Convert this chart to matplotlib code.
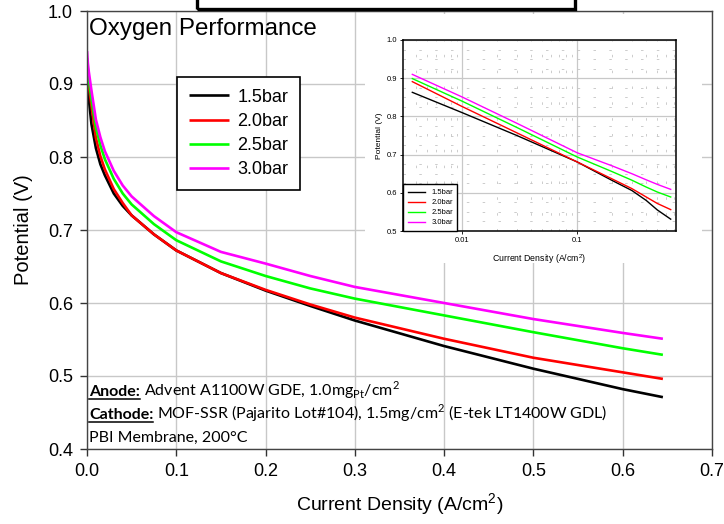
import matplotlib
matplotlib.use("Agg")
import matplotlib.pyplot as plt
from matplotlib.patches import Rectangle
from matplotlib.lines import Line2D

# ---------------- data ----------------
labels = ["1.5bar", "2.0bar", "2.5bar", "3.0bar"]
colors = ["#000000", "#FF0000", "#00FF00", "#FF00FF"]

# main plot (current density A/cm2 vs potential V)
main_x = [0.0, 0.001, 0.002, 0.005, 0.01, 0.015, 0.02, 0.03, 0.04, 0.05, 0.075, 0.1, 0.15,
          0.2, 0.25, 0.3, 0.4, 0.5, 0.6, 0.645]
main_v = {
    "1.5bar": [0.925, 0.900, 0.880, 0.845, 0.812, 0.790, 0.775, 0.750, 0.733, 0.720, 0.694,
               0.672, 0.641, 0.617, 0.596, 0.576, 0.541, 0.510, 0.482, 0.471],
    "2.0bar": [0.930, 0.910, 0.898, 0.870, 0.826, 0.801, 0.783, 0.756, 0.737, 0.720, 0.694,
               0.672, 0.641, 0.618, 0.598, 0.580, 0.551, 0.525, 0.505, 0.496],
    "2.5bar": [0.935, 0.918, 0.906, 0.879, 0.840, 0.816, 0.797, 0.770, 0.750, 0.735, 0.708,
               0.686, 0.657, 0.637, 0.620, 0.606, 0.583, 0.560, 0.538, 0.529],
    "3.0bar": [0.945, 0.928, 0.917, 0.891, 0.851, 0.827, 0.808, 0.781, 0.761, 0.746, 0.719,
               0.697, 0.670, 0.654, 0.637, 0.622, 0.600, 0.578, 0.559, 0.551],
}

# inset (log current density)
inset_x = [0.0037, 0.01, 0.03, 0.1, 0.2, 0.3, 0.4, 0.5, 0.653]
inset_v = {
    "1.5bar": [0.863, 0.810, 0.750, 0.681, 0.633, 0.606, 0.580, 0.555, 0.531],
    "2.0bar": [0.891, 0.826, 0.757, 0.681, 0.637, 0.611, 0.589, 0.572, 0.556],
    "2.5bar": [0.899, 0.840, 0.771, 0.694, 0.656, 0.633, 0.615, 0.602, 0.589],
    "3.0bar": [0.910, 0.851, 0.782, 0.705, 0.671, 0.650, 0.634, 0.622, 0.609],
}

main_xticks = [0.0, 0.1, 0.2, 0.3, 0.4, 0.5, 0.6, 0.7]
main_yticks = [0.4, 0.5, 0.6, 0.7, 0.8, 0.9, 1.0]
inset_yticks = [0.5, 0.6, 0.7, 0.8, 0.9, 1.0]

# ---------------- figure ----------------
W, H = 724, 524
plt.rcParams["font.family"] = ["Liberation Sans", "DejaVu Sans"]
fig = plt.figure(figsize=(W / 100, H / 100), dpi=100)

def fx(px):
    return px / W

def fy(py):
    return 1 - py / H

ax = fig.add_axes([fx(87), fy(449), fx(712) - fx(87), fy(11) - fy(449)])
for lab, c in zip(labels, colors):
    ax.plot(main_x, main_v[lab], color=c, lw=1.9, label=lab, solid_capstyle="butt")
ax.set_xlim(0, 0.7)
ax.set_ylim(0.4, 1.0)
ax.set_xticks(main_xticks)
ax.set_yticks(main_yticks)
ax.set_xticklabels([f"{t:.1f}" for t in main_xticks])
ax.set_yticklabels([f"{t:.1f}" for t in main_yticks])
ax.tick_params(direction="out", length=5, width=1, labelsize=13, colors="#333333",
               labelcolor="black", pad=5)
ax.grid(True, color="#C8C8C8", lw=1)
ax.set_axisbelow(True)
for s in ax.spines.values():
    s.set_color("#444444")
    s.set_linewidth(1)
ax.set_xlabel("Current Density (A/cm$^\\mathregular{2}$)", fontsize=14, labelpad=8)
ax.set_ylabel("Potential (V)", fontsize=14.5, labelpad=11)
ax.text(0.003, 0.985, "Oxygen Performance", transform=ax.transAxes, fontsize=17.4,
        va="top", ha="left")

leg = fig.legend(*ax.get_legend_handles_labels(), loc="upper left",
                 bbox_to_anchor=(fx(177), fy(77)), bbox_transform=fig.transFigure,
                 borderaxespad=0, fontsize=13, handlelength=2.25, handletextpad=0.45,
                 labelspacing=0.4, fancybox=False, framealpha=1, edgecolor="black",
                 borderpad=0.65)
leg.get_frame().set_linewidth(1.2)

# title box (cut off at top)
fig.patches.append(Rectangle((fx(197), fy(9)), fx(575) - fx(197), 0.2,
                             transform=fig.transFigure, fill=False, ec="black", lw=2.4))

# inset white background
ax.add_patch(Rectangle((fx(365), fy(263)), fx(702) - fx(365), fy(14) - fy(263),
                       transform=fig.transFigure, fc="white", ec="none", zorder=10,
                       clip_on=False))

# ---------------- inset ----------------
ins = fig.add_axes([fx(403), fy(231), fx(676) - fx(403), fy(40) - fy(231)])
for lab, c in zip(labels, colors):
    ins.plot(inset_x, inset_v[lab], color=c, lw=1.0, label=lab)
ins.set_xscale("log")
ins.set_xlim(0.00307, 0.726)
ins.set_ylim(0.5, 1.0)
ins.set_yticks(inset_yticks)
ins.set_yticklabels([f"{t:.1f}" for t in inset_yticks])
ins.set_xticks([0.01, 0.1])
ins.set_xticklabels(["0.01", "0.1"])
ins.set_yticks([0.5 + 0.025 * i for i in range(21)], minor=True)
ins.tick_params(which="major", direction="out", length=2, width=0.6, labelsize=5.5, pad=2)
ins.tick_params(which="minor", length=0)
ins.grid(True, which="major", color="#C8C8C8", lw=0.9)
ins.grid(True, which="minor", color="#C4C4C4", lw=0.6, linestyle=(0, (3, 16)))
ins.set_axisbelow(True)
for s in ins.spines.values():
    s.set_color("black")
    s.set_linewidth(1.1)
ins.set_xlabel("Current Density (A/cm$^\\mathregular{2}$)", fontsize=6.3, labelpad=6)
ins.set_ylabel("Potential (V)", fontsize=6, labelpad=3)
il = ins.legend(loc="lower left", borderaxespad=0, fontsize=5.5, handlelength=2.3,
                handletextpad=0.8, labelspacing=0.35, fancybox=False, framealpha=1,
                edgecolor="black", borderpad=0.6)
il.get_frame().set_linewidth(1.0)

# ---------------- annotation ----------------
afont = ["Lato", "DejaVu Sans"]
asize = 11.5
fig.canvas.draw()
r = fig.canvas.get_renderer()

def underlined_head(x_px, base_py, head, rest):
    t = fig.text(fx(x_px), fy(base_py), head, fontsize=asize, fontweight="bold",
                 family=afont, va="baseline", ha="left")
    bb = t.get_window_extent(renderer=r)
    fig.add_artist(Line2D([bb.x0 / W, bb.x1 / W], [fy(base_py + 2.5)] * 2,
                          transform=fig.transFigure, color="black", lw=1.1))
    fig.text((bb.x1 + 4) / W, fy(base_py), rest, fontsize=asize, family=afont,
             va="baseline", ha="left")

underlined_head(89, 396, "Anode:", "Advent A1100W GDE, 1.0mg$_\\mathregular{Pt}$/cm$^\\mathregular{2}$")
underlined_head(89, 419, "Cathode:",
                "MOF-SSR (Pajarito Lot#104), 1.5mg/cm$^\\mathregular{2}$ (E-tek LT1400W GDL)")
fig.text(fx(89), fy(442), "PBI Membrane, 200\u00b0C", fontsize=asize, family=afont,
         va="baseline", ha="left")

fig.savefig("out.png", dpi=100)
